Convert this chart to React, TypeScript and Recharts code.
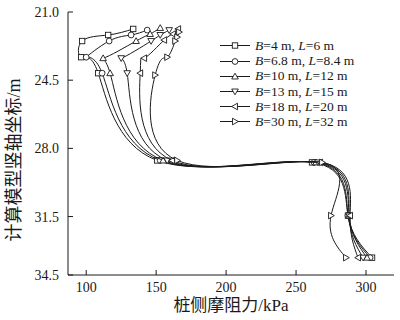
import React from 'react';
import { ScatterChart, Scatter, XAxis, YAxis, Legend } from 'recharts';

const legendB = ['4', '6.8', '10', '13', '18', '30'];
const legendL = ['6', '8.4', '12', '15', '20', '32'];

const xTicks = [100, 150, 200, 250, 300];
const yTicks = [21.0, 24.5, 28.0, 31.5, 34.5];

const depthSquare = [21.87, 22.18, 22.49, 23.32, 24.14, 28.62, 28.72, 31.45, 33.61];
const forceSquare = [133.6, 115.7, 97.1, 96.4, 108.6, 150.7, 261.4, 287.1, 304.3];
const depthCircle = [21.93, 22.18, 22.49, 23.32, 24.14, 28.62, 28.72, 31.45, 33.61];
const forceCircle = [143.6, 132.1, 116.4, 100.0, 111.4, 152.9, 262.9, 287.1, 302.9];
const depthUp = [21.82, 22.13, 22.49, 23.37, 24.14, 28.62, 28.72, 31.45, 33.61];
const forceUp = [152.9, 145.7, 135.7, 112.1, 117.1, 155.0, 264.3, 287.9, 300.7];
const depthDown = [21.93, 22.18, 22.49, 23.37, 24.14, 28.62, 28.72, 31.45, 33.61];
const forceDown = [159.3, 152.9, 146.4, 125.0, 129.3, 157.9, 265.7, 287.9, 297.9];
const depthLeft = [21.87, 22.13, 22.44, 23.37, 24.14, 28.62, 28.72, 31.45, 33.61];
const forceLeft = [165.7, 162.1, 155.7, 141.4, 138.6, 161.4, 267.1, 288.6, 294.3];
const depthRight = [22.03, 22.29, 22.49, 23.32, 24.24, 28.62, 28.72, 31.45, 33.61];
const forceRight = [166.4, 165.0, 163.6, 157.9, 149.3, 165.0, 268.6, 275.0, 285.7];

type Kind = 'square' | 'circle' | 'up' | 'down' | 'left' | 'right';

const series: { kind: Kind; force: number[]; depth: number[] }[] = [
  { kind: 'square', force: forceSquare, depth: depthSquare },
  { kind: 'circle', force: forceCircle, depth: depthCircle },
  { kind: 'up', force: forceUp, depth: depthUp },
  { kind: 'down', force: forceDown, depth: depthDown },
  { kind: 'left', force: forceLeft, depth: depthLeft },
  { kind: 'right', force: forceRight, depth: depthRight },
];

const SERIF = '"Liberation Serif", "Times New Roman", "Noto Sans CJK SC", serif';
const INK = '#1a1a1a';

function Marker({ kind, cx, cy }: { kind: Kind; cx: number; cy: number }) {
  const common = { fill: '#fff', stroke: INK, strokeWidth: 0.9 };
  const r = 3.3;
  switch (kind) {
    case 'square':
      return <rect x={cx - 2.7} y={cy - 2.7} width={5.4} height={5.4} {...common} />;
    case 'circle':
      return <circle cx={cx} cy={cy} r={2.9} {...common} />;
    case 'up':
      return <polygon points={`${cx},${cy - r} ${cx + r},${cy + r * 0.75} ${cx - r},${cy + r * 0.75}`} {...common} />;
    case 'down':
      return <polygon points={`${cx},${cy + r} ${cx + r},${cy - r * 0.75} ${cx - r},${cy - r * 0.75}`} {...common} />;
    case 'left':
      return <polygon points={`${cx - r},${cy} ${cx + r * 0.75},${cy - r} ${cx + r * 0.75},${cy + r}`} {...common} />;
    default:
      return <polygon points={`${cx + r},${cy} ${cx - r * 0.75},${cy - r} ${cx - r * 0.75},${cy + r}`} {...common} />;
  }
}

function LegendBox() {
  return (
    <div style={{ fontFamily: SERIF, fontSize: 13.5, color: INK }}>
      {series.map((s, i) => (
        <div key={i} style={{ height: 15.2, display: 'flex', alignItems: 'center', whiteSpace: 'nowrap' }}>
          <svg width={34} height={15} style={{ display: 'block' }}>
            <line x1={2} x2={32} y1={7.5} y2={7.5} stroke={INK} strokeWidth={1} />
            <Marker kind={s.kind} cx={17} cy={7.5} />
          </svg>
          <span style={{ marginLeft: 3 }}>
            <i>B</i>={legendB[i]} m, <i>L</i>={legendL[i]} m
          </span>
        </div>
      ))}
    </div>
  );
}

export default function App() {
  return (
    <div style={{ position: 'absolute', left: 0, top: 0 }}>
      <ScatterChart width={400} height={320} margin={{ top: 12, right: 6, bottom: 0, left: 0 }}>
        <XAxis
          type="number"
          dataKey="x"
          domain={[87, 320]}
          ticks={xTicks}
          allowDataOverflow
          height={45}
          tickSize={-5}
          tickMargin={12}
          stroke={INK}
          tick={{ fill: INK, fontSize: 14, fontFamily: SERIF }}
          label={{
            value: '桩侧摩阻力/kPa',
            position: 'insideBottom',
            offset: 9,
            style: { fill: INK, fontSize: 17, fontFamily: SERIF },
          }}
        />
        <YAxis
          type="number"
          dataKey="y"
          domain={[21, 34.5]}
          ticks={yTicks}
          reversed
          allowDataOverflow
          width={68}
          tickSize={-5}
          tickMargin={14}
          stroke={INK}
          tickFormatter={(v: number) => v.toFixed(1)}
          tick={{ fill: INK, fontSize: 14, fontFamily: SERIF }}
          label={{
            content: () => (
              <text
                x={14}
                y={160}
                transform="rotate(-90 14 160)"
                textAnchor="middle"
                dominantBaseline="central"
                fontSize={18}
                fontFamily={SERIF}
                fill={INK}
              >
                计算模型竖轴坐标/m
              </text>
            ),
          }}
        />
        <Legend
          layout="vertical"
          align="center"
          verticalAlign="middle"
          content={() => <LegendBox />}
          wrapperStyle={{ position: 'absolute', left: 218, top: 38.4, width: 180 }}
        />
        {series.map((s, i) => (
          <Scatter
            key={i}
            name={`B=${legendB[i]} m, L=${legendL[i]} m`}
            data={s.force.map((f, j) => ({ x: f, y: s.depth[j] }))}
            line={{ stroke: INK, strokeWidth: 1 }}
            lineJointType="natural"
            isAnimationActive={false}
            shape={(p: any) => <Marker kind={s.kind} cx={p.cx} cy={p.cy} />}
          />
        ))}
      </ScatterChart>
    </div>
  );
}
